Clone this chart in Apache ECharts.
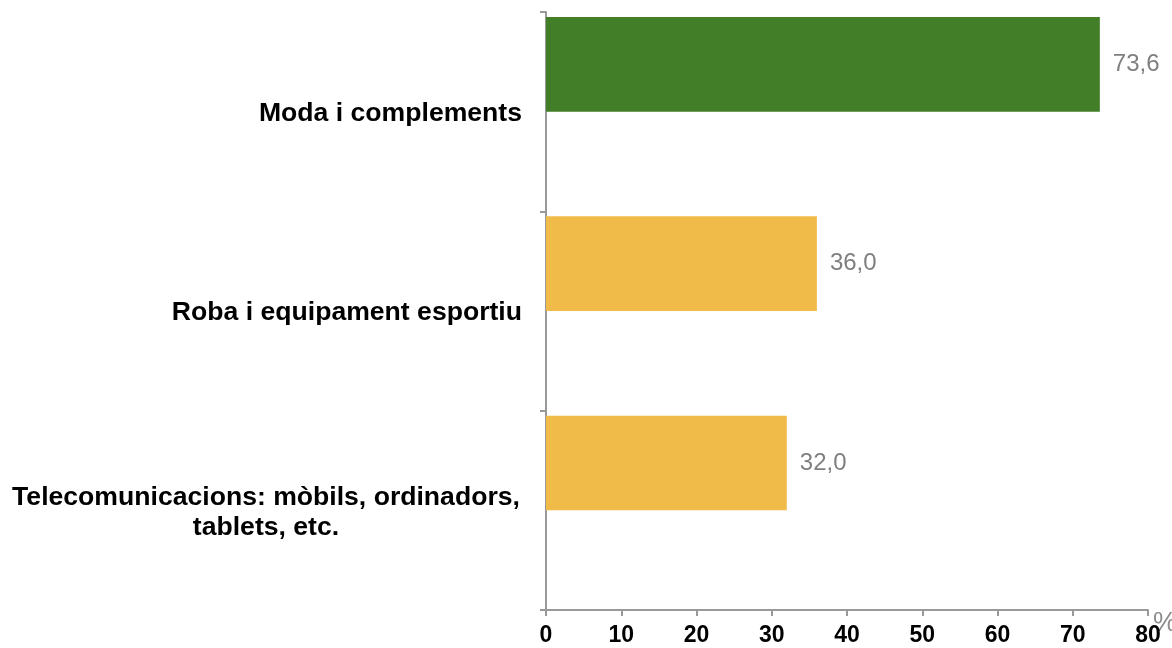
<!DOCTYPE html>
<html>
<head>
<meta charset="utf-8">
<script src="https://cdn.jsdelivr.net/npm/echarts@6/dist/echarts.min.js"></script>
<style>
  html, body { margin: 0; padding: 0; background: #ffffff; }
  #chart { width: 1172px; height: 648px; }
</style>
</head>
<body>
<div id="chart"></div>
<script>
// Categories, top to bottom
var categories = [
  'Moda i complements',
  'Roba i equipament esportiu',
  'Telecomunicacions: mòbils, ordinadors,\ntablets, etc.'
];
// Share of buyers (%)
var values = [73.6, 36.0, 32.0];
// Bar colours per category
var barColors = ['#427E27', '#F0BB48', '#F0BB48'];
// Companion series (no values) that shares each category band
var companion = [null, null, null];
// X axis range
var xMin = 0, xMax = 80, xStep = 10;

var fontFamily = 'Arial, "Liberation Sans", sans-serif';

var chart = echarts.init(document.getElementById('chart'), null, { renderer: 'canvas' });

chart.setOption({
  backgroundColor: '#ffffff',
  animation: false,
  grid: { left: 546, right: 24, top: 12, bottom: 38, containLabel: false, outerBoundsMode: 'none' },
  xAxis: {
    type: 'value',
    min: xMin, max: xMax, interval: xStep,
    name: '%',
    nameLocation: 'end',
    nameGap: 5,
    nameMoveOverlap: false,
    nameTextStyle: { color: '#8C8C8C', fontSize: 27, fontFamily: fontFamily, align: 'left', verticalAlign: 'top', padding: [0, 0, 0, 0] },
    axisLine: { show: true, lineStyle: { color: '#999999', width: 2 } },
    axisTick: { show: true, length: 6, lineStyle: { color: '#999999', width: 2 } },
    splitLine: { show: false },
    axisLabel: { color: '#000000', fontSize: 23, fontWeight: 'bold', fontFamily: fontFamily, margin: 14 }
  },
  yAxis: {
    type: 'category',
    inverse: true,
    data: categories,
    axisLine: { show: true, lineStyle: { color: '#999999', width: 2 } },
    axisTick: { show: true, length: 6, lineStyle: { color: '#999999', width: 2 } },
    splitLine: { show: false },
    axisLabel: {
      color: '#000000', fontSize: 26.6, fontWeight: 'bold', fontFamily: fontFamily,
      margin: 24, align: 'right', lineHeight: 30,
      padding: [4, 0, 0, 0],
      formatter: function (v) {
        if (v.indexOf('\n') >= 0) {
          return v.split('\n').map(function (s) { return '{c|' + s + '}'; }).join('\n');
        }
        return v;
      },
      rich: {
        c: { width: 512, align: 'center', fontSize: 26.6, fontWeight: 'bold', fontFamily: fontFamily, color: '#000000', lineHeight: 30 }
      }
    }
  },
  series: [
    {
      type: 'bar',
      data: values.map(function (v, i) { return { value: v, itemStyle: { color: barColors[i] } }; }),
      barCategoryGap: '5%',
      barGap: '0%',
      label: {
        show: true, position: 'right', distance: 13,
        color: '#7F7F7F', fontSize: 24, fontFamily: fontFamily,
        formatter: function (p) { return p.value.toFixed(1).replace('.', ','); }
      }
    },
    {
      type: 'bar',
      data: companion,
      barCategoryGap: '5%',
      barGap: '0%'
    }
  ]
});
</script>
</body>
</html>
